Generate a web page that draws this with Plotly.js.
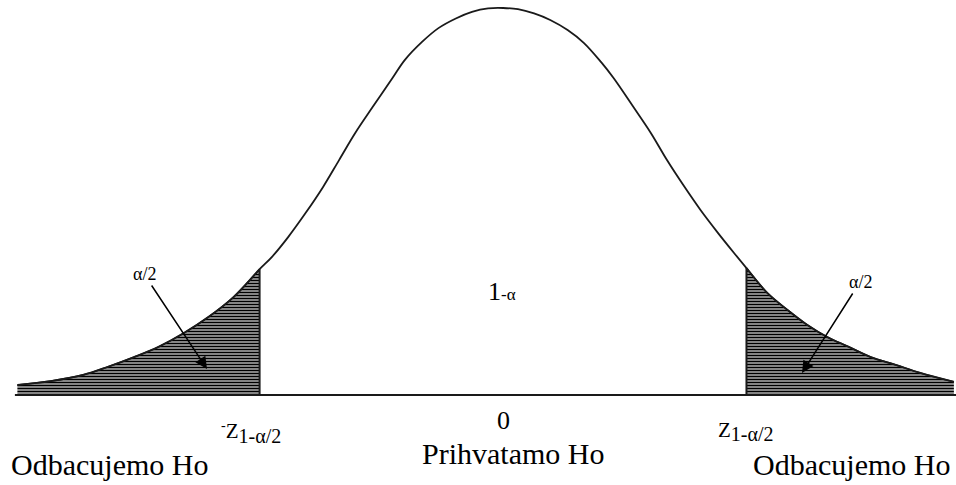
<!DOCTYPE html>
<html>
<head>
<meta charset="utf-8">
<script src="https://cdn.plot.ly/plotly-3.0.1.min.js"></script>
<style>
  html, body { margin: 0; padding: 0; background: #ffffff; }
  #chart { width: 956px; height: 485px; }
</style>
</head>
<body>
<div id="chart"></div>
<script>
// Curve (z position, height relative to the peak)
const zPos    = [-3.91, -3.64, -3.38, -3.18, -2.97, -2.77, -2.57, -2.37, -2.17, -1.96, -1.86, -1.73, -1.59, -1.45, -1.32, -1.19, -1.05, -0.89, -0.79, -0.65, -0.52, -0.38, -0.25, -0.12, 0, 0.12, 0.25, 0.38, 0.52, 0.65, 0.79, 0.89, 1.05, 1.19, 1.32, 1.45, 1.59, 1.73, 1.86, 1.96, 2.13, 2.29, 2.45, 2.61, 2.78, 2.96, 3.16, 3.36, 3.63];
const density = [0.026, 0.036, 0.052, 0.073, 0.098, 0.125, 0.160, 0.202, 0.253, 0.325, 0.357, 0.408, 0.470, 0.537, 0.607, 0.677, 0.744, 0.819, 0.866, 0.913, 0.948, 0.973, 0.990, 0.999, 1.0, 0.997, 0.986, 0.969, 0.943, 0.910, 0.860, 0.819, 0.744, 0.677, 0.607, 0.543, 0.478, 0.419, 0.367, 0.328, 0.263, 0.220, 0.181, 0.150, 0.125, 0.098, 0.078, 0.057, 0.034];
const criticalZ = 1.96;

// Text labels
const tailLabel = "α/2";
const centerLabel = "1<span style='font-size:17px'>-α</span>";
const zeroLabel = "0";
const leftCritLabel = "<sup>-</sup><span style='font-size:21px'>Z</span><sub><span style='font-size:20px'>1-α/2</span></sub>";
const rightCritLabel = "<span style='font-size:21px'>Z</span><sub><span style='font-size:20px'>1-α/2</span></sub>";
const rejectLabel = "Odbacujemo Ho";
const acceptLabel = "Prihvatamo Ho";

// Tails
const leftX = [], leftY = [], rightX = [], rightY = [];
zPos.forEach((z, i) => {
  if (z <= -criticalZ) { leftX.push(z); leftY.push(density[i]); }
  if (z >= criticalZ) { rightX.push(z); rightY.push(density[i]); }
});
const leftCritH = leftY[leftY.length - 1];
const rightCritH = rightY[0];

const W = 956, H = 485;
const px = (x, y) => ({ xref: 'paper', yref: 'paper', x: x / W, y: 1 - y / H });

const hatch = { shape: '-', fgcolor: '#000000', bgcolor: '#b0b0b0', size: 3, solidity: 0.5, fillmode: 'replace' };
const ink = '#1a1a1a';
const serif = '"Liberation Serif", "Times New Roman", serif';

const traces = [
  { x: leftX, y: leftY, mode: 'lines', line: { color: ink, width: 1.6, shape: 'spline' }, fill: 'tozeroy', fillcolor: 'rgba(0,0,0,0)', fillpattern: hatch, hoverinfo: 'skip' },
  { x: rightX, y: rightY, mode: 'lines', line: { color: ink, width: 1.6, shape: 'spline' }, fill: 'tozeroy', fillcolor: 'rgba(0,0,0,0)', fillpattern: hatch, hoverinfo: 'skip' },
  { x: zPos, y: density, mode: 'lines', line: { color: ink, width: 1.8, shape: 'spline', smoothing: 1 }, hoverinfo: 'skip' },
  { x: [-criticalZ, -criticalZ], y: [0, leftCritH], mode: 'lines', line: { color: ink, width: 2 }, hoverinfo: 'skip' },
  { x: [criticalZ, criticalZ], y: [0, rightCritH], mode: 'lines', line: { color: ink, width: 2 }, hoverinfo: 'skip' },
  { x: [zPos[0] - 0.02, zPos[zPos.length - 1] + 0.1], y: [0, 0], mode: 'lines', line: { color: ink, width: 2.2 }, hoverinfo: 'skip' }
];

const txt = (t, x, y, size, extra) => Object.assign({ text: t, showarrow: false, xanchor: 'center', yanchor: 'middle', borderpad: 0, font: { family: serif, size: size, color: '#000' } }, px(x, y), extra || {});

const annotations = [
  Object.assign(px(207, 369), { text: tailLabel, showarrow: true, ax: -63, ay: -95, arrowhead: 2, arrowsize: 1.6, arrowwidth: 1.5, arrowcolor: '#000', font: { family: serif, size: 18, color: '#000' } }),
  Object.assign(px(802, 373), { text: tailLabel, showarrow: true, ax: 58, ay: -91, arrowhead: 2, arrowsize: 1.6, arrowwidth: 1.5, arrowcolor: '#000', font: { family: serif, size: 18, color: '#000' } }),
  txt(centerLabel, 502, 291, 26),
  { text: zeroLabel, x: 0, xref: 'x', y: 1 - 420 / H, yref: 'paper', showarrow: false, xanchor: 'center', yanchor: 'middle', borderpad: 0, font: { family: serif, size: 26, color: '#000' } },
  { text: leftCritLabel, x: -criticalZ, xref: 'x', xshift: -9, y: 1 - 432 / H, yref: 'paper', showarrow: false, xanchor: 'center', yanchor: 'middle', font: { family: serif, size: 20, color: '#000' } },
  { text: rightCritLabel, x: criticalZ, xref: 'x', y: 1 - 431 / H, yref: 'paper', showarrow: false, xanchor: 'center', yanchor: 'middle', font: { family: serif, size: 20, color: '#000' } },
  txt(rejectLabel, 109, 464, 30),
  txt(rejectLabel, 851, 464, 30),
  txt(acceptLabel, 513, 453, 30)
];

const layout = {
  width: W, height: H,
  margin: { l: 0, r: 0, t: 0, b: 0, pad: 0 },
  paper_bgcolor: '#ffffff', plot_bgcolor: '#ffffff',
  showlegend: false,
  font: { family: serif },
  xaxis: { range: [-4.05, 3.647], visible: false, fixedrange: true },
  yaxis: { range: [-0.2326, 1.0207], visible: false, fixedrange: true },
  annotations: annotations
};

Plotly.newPlot('chart', traces, layout, { staticPlot: true, displayModeBar: false });
</script>
</body>
</html>
